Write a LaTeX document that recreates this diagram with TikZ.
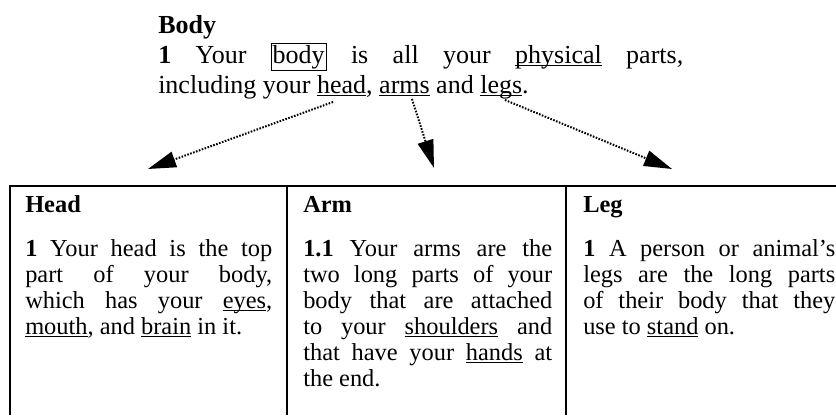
\documentclass[tikz,border=0pt]{standalone}
\usepackage{fontspec}
\setmainfont{Liberation Serif}
\usetikzlibrary{arrows.meta}
\newsavebox\ulbox
\newcommand\myul[1]{\sbox\ulbox{#1}\rlap{\rule[-2.3pt]{\wd\ulbox}{0.75pt}}#1}
\tolerance=10000
\hbadness=10000
\hyphenpenalty=10000
\begin{document}
\begin{tikzpicture}[x=0.75pt,y=-0.75pt,
  txt/.style={inner sep=0pt,anchor=base west},
  topfont/.style={font=\fontsize{19.5}{22.5}\selectfont},
  topbold/.style={font=\fontsize{19.5}{22.5}\selectfont\bfseries},
  colfont/.style={font=\fontsize{18.3}{19.5}\selectfont},
  colbold/.style={font=\fontsize{18.3}{19.5}\selectfont\bfseries},
  coltext/.style={inner sep=0pt,anchor=base west,align=justify,colfont},
  rule/.style={line width=1.2pt},
  arr/.style={line width=1.5pt,dash pattern=on 1.2pt off 1.1pt,
    -{Triangle[length=21pt,width=12pt]}}]
\useasboundingbox (0,0) rectangle (836,415);
% top entry
\node[txt,topbold] (title) at (158,33) {Body};
\node[txt,topfont] (line1) at (158,63)
  {\makebox[393.75pt][s]{\textbf{1} Your \setlength\fboxsep{0.8pt}\setlength\fboxrule{0.6pt}\fbox{body} is all your \myul{physical} parts,}};
\node[txt,topfont] (line2) at (158,93)
  {including your \myul{head}, \myul{arms} and \myul{legs}.};
% arrows
\coordinate (shead) at (333,102);
\coordinate (sarms) at (412,99);
\coordinate (slegs) at (505,100);
\coordinate (thead) at (148,169);
\coordinate (tarms) at (434,168);
\coordinate (tlegs) at (672,169);
\draw[arr] (shead) -- (thead);
\draw[arr] (sarms) -- (tarms);
\draw[arr] (slegs) -- (tlegs);
% table rules
\coordinate (tl) at (10,186);
\coordinate (tr) at (836,186);
\coordinate (bl) at (10,415);
\coordinate (d1t) at (287,186);
\coordinate (d1b) at (287,415);
\coordinate (d2t) at (566,186);
\coordinate (d2b) at (566,415);
\draw[rule] (tr) -- (tl) -- (bl);
\draw[rule] (d1t) -- (d1b);
\draw[rule] (d2t) -- (d2b);
% headings
\node[txt,colbold] (hhead) at (25,212) {Head};
\node[txt,colbold] (harm) at (303,212) {Arm};
\node[txt,colbold] (hleg) at (583,212) {Leg};
% column texts
\node[coltext,text width=185.25pt] (chead) at (25,256)
  {\textbf{1} Your head is the top\linebreak part of your body,\linebreak which has your \myul{eyes},\linebreak \myul{mouth}, and \myul{brain} in it.};
\node[coltext,text width=186.75pt] (carm) at (303,256)
  {\textbf{1.1} Your arms are the\linebreak two long parts of your\linebreak body that are attached\linebreak to your \myul{shoulders} and\linebreak that have your \myul{hands} at\linebreak the end.};
\node[coltext,text width=189pt] (cleg) at (583,256)
  {\textbf{1} A person or animal’s\linebreak legs are the long parts\linebreak of their body that they\linebreak use to \myul{stand} on.};
\end{tikzpicture}
\end{document}
